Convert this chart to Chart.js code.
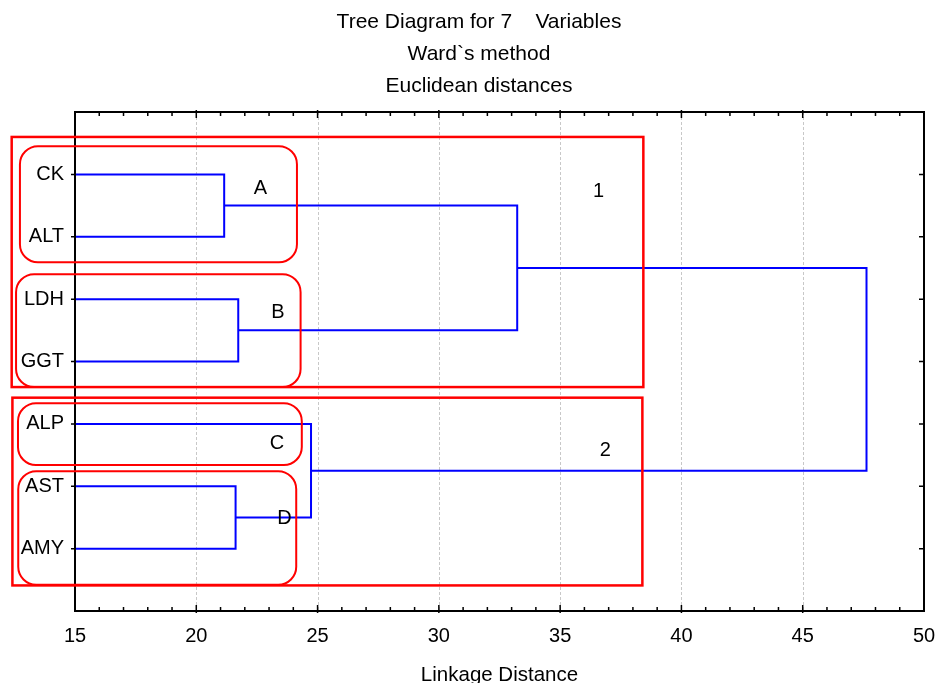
<!DOCTYPE html>
<html>
<head>
<meta charset="utf-8">
<title>Tree Diagram for 7 Variables</title>
<script src="https://cdn.jsdelivr.net/npm/chart.js@4.4.0/dist/chart.umd.min.js"></script>
<style>
  html, body { margin: 0; padding: 0; background: #fff; }
  #wrap { width: 936px; height: 683px; position: relative; }
</style>
</head>
<body>
<div id="wrap"><canvas id="tree"></canvas></div>
<script>
// variables in tree order, top to bottom
const variables = ['CK', 'ALT', 'LDH', 'GGT', 'ALP', 'AST', 'AMY'];
// linkage steps (leaves are 0..6, each merge makes node 7, 8, ...)
const mergeA = [0, 2, 5, 4, 7, 10];
const mergeB = [1, 3, 6, 9, 8, 11];
const mergeDistance = [21.15, 21.73, 21.62, 24.73, 33.23, 47.63];
const xTicks = [15, 20, 25, 30, 35, 40, 45, 50];
const titleLines = ['Tree Diagram for 7    Variables', 'Ward`s method', 'Euclidean distances'];
const axisTitle = 'Linkage Distance';

// groups marked on the figure, in axis units (distance, row)
const groupBoxes = [
    { x0: 12.39, x1: 38.43, y0: 0.40, y1: 4.41 },
    { x0: 12.42, x1: 38.39, y0: 4.58, y1: 7.59 }
];
const clusterBoxes = [
    { x0: 12.73, x1: 24.15, y0: 0.55, y1: 2.41 },
    { x0: 12.57, x1: 24.30, y0: 2.60, y1: 4.41 },
    { x0: 12.65, x1: 24.35, y0: 4.67, y1: 5.66 },
    { x0: 12.66, x1: 24.12, y0: 5.76, y1: 7.58 }
];
const noteText = ['A', 'B', 'C', 'D', '1', '2'];
const noteX = [22.64, 23.37, 23.33, 23.64, 36.58, 36.86];
const noteY = [1.22, 3.21, 5.32, 6.52, 1.28, 5.42];

const FONT = '"Liberation Sans", Arial, sans-serif';

// build the branch polylines from the linkage
const nodeX = variables.map(() => xTicks[0]);
const nodeY = variables.map((v, i) => i + 1);
const branches = [];
mergeDistance.forEach((d, k) => {
    const a = mergeA[k], b = mergeB[k];
    branches.push([
        { x: nodeX[a], y: nodeY[a] },
        { x: d, y: nodeY[a] },
        { x: d, y: nodeY[b] },
        { x: nodeX[b], y: nodeY[b] }
    ]);
    nodeX.push(d);
    nodeY.push((nodeY[a] + nodeY[b]) / 2);
});

// grid lines, frame, ticks, boxes and texts
const treeDecor = {
    id: 'treeDecor',
    beforeDatasetsDraw(chart) {
        const { ctx, chartArea: a, scales: { x } } = chart;
        ctx.save();
        ctx.strokeStyle = '#c8c8c8';
        ctx.lineWidth = 1;
        ctx.setLineDash([3, 2]);
        xTicks.slice(1, -1).forEach(v => {
            const px = Math.round(x.getPixelForValue(v)) + 0.5;
            ctx.beginPath();
            ctx.moveTo(px, a.top);
            ctx.lineTo(px, a.bottom);
            ctx.stroke();
        });
        ctx.restore();
    },
    afterDatasetsDraw(chart) {
        const { ctx, chartArea: a, scales: { x, y } } = chart;
        ctx.save();

        // frame
        ctx.strokeStyle = '#000';
        ctx.lineWidth = 2;
        ctx.strokeRect(a.left, a.top, a.right - a.left, a.bottom - a.top);

        // x ticks top and bottom, every unit
        ctx.lineWidth = 1.5;
        ctx.beginPath();
        for (let v = xTicks[0] + 1; v < xTicks[xTicks.length - 1]; v++) {
            const px = x.getPixelForValue(v);
            const len = v % 5 === 0 ? 6 : 4;
            ctx.moveTo(px, a.bottom + (v % 5 === 0 ? 2 : 0));
            ctx.lineTo(px, a.bottom - len);
            ctx.moveTo(px, a.top - (v % 5 === 0 ? 2 : 0));
            ctx.lineTo(px, a.top + len);
        }
        // y ticks: outward on the left, inward on the right
        variables.forEach((v, i) => {
            const py = y.getPixelForValue(i + 1);
            ctx.moveTo(a.left - 4, py);
            ctx.lineTo(a.left, py);
            ctx.moveTo(a.right, py);
            ctx.lineTo(a.right - 5, py);
        });
        ctx.stroke();

        // group rectangles
        ctx.strokeStyle = '#ff0000';
        ctx.lineWidth = 2.5;
        groupBoxes.forEach(b => {
            const l = x.getPixelForValue(b.x0), r = x.getPixelForValue(b.x1);
            const t = y.getPixelForValue(b.y0), btm = y.getPixelForValue(b.y1);
            ctx.strokeRect(l, t, r - l, btm - t);
        });
        // rounded cluster outlines
        ctx.lineWidth = 2;
        clusterBoxes.forEach(b => {
            const l = x.getPixelForValue(b.x0), r = x.getPixelForValue(b.x1);
            const t = y.getPixelForValue(b.y0), btm = y.getPixelForValue(b.y1);
            ctx.beginPath();
            ctx.roundRect(l, t, r - l, btm - t, 18);
            ctx.stroke();
        });

        // labels
        ctx.fillStyle = '#000';
        ctx.font = '20px ' + FONT;
        ctx.textAlign = 'center';
        ctx.textBaseline = 'middle';
        noteText.forEach((t, i) => {
            ctx.fillText(t, x.getPixelForValue(noteX[i]), y.getPixelForValue(noteY[i]));
        });

        // titles
        ctx.textBaseline = 'alphabetic';
        ctx.font = '21px ' + FONT;
        titleLines.forEach((t, i) => ctx.fillText(t, 479, 28 + i * 32));
        ctx.font = '20.5px ' + FONT;
        ctx.fillText(axisTitle, (a.left + a.right) / 2, 681);

        ctx.restore();
    }
};

new Chart(document.getElementById('tree'), {
    type: 'scatter',
    data: {
        datasets: branches.map(pts => ({
            data: pts,
            showLine: true,
            borderColor: '#0000ff',
            borderWidth: 2,
            pointRadius: 0,
            tension: 0,
            fill: false
        }))
    },
    options: {
        responsive: true,
        maintainAspectRatio: false,
        animation: false,
        layout: { padding: { top: 112, right: 12, left: 0, bottom: 0 } },
        plugins: {
            legend: { display: false },
            tooltip: { enabled: false }
        },
        scales: {
            x: {
                type: 'linear',
                min: 15,
                max: 50,
                afterBuildTicks: s => { s.ticks = xTicks.map(v => ({ value: v })); },
                afterFit: s => { s.height = 72; s.paddingLeft = 0; s.paddingRight = 0; },
                grid: { display: false },
                border: { display: false },
                ticks: {
                    color: '#000',
                    padding: 5,
                    maxRotation: 0,
                    font: { family: FONT, size: 20 }
                }
            },
            y: {
                type: 'linear',
                min: 0,
                max: 8,
                reverse: true,
                afterBuildTicks: s => { s.ticks = variables.map((v, i) => ({ value: i + 1 })); },
                afterFit: s => { s.width = 75; s.paddingTop = 0; s.paddingBottom = 0; },
                grid: { display: false },
                border: { display: false },
                ticks: {
                    color: '#000',
                    padding: 3,
                    font: { family: FONT, size: 20 },
                    callback: v => variables[v - 1]
                }
            }
        }
    },
    plugins: [treeDecor]
});
</script>
</body>
</html>
